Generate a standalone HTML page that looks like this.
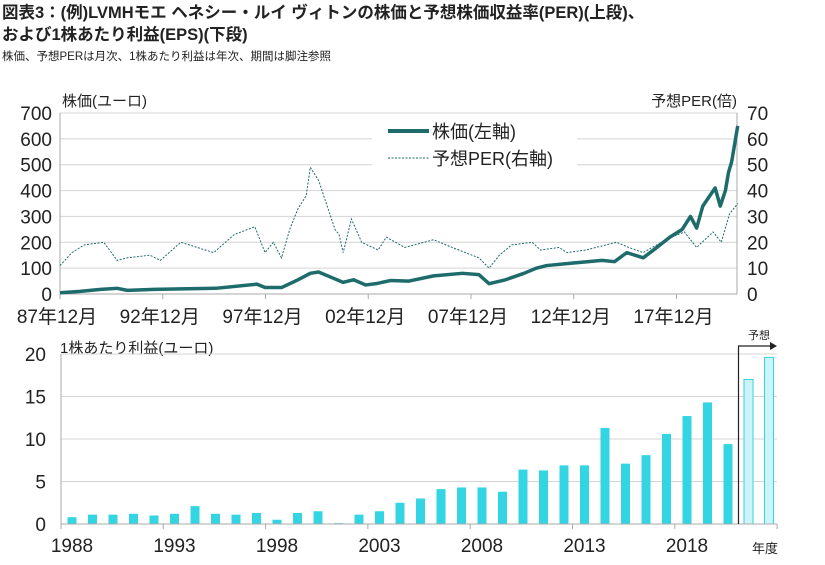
<!DOCTYPE html>
<html><head><meta charset="utf-8"><style>
body{margin:0;background:#fff;width:825px;height:560px;overflow:hidden;font-family:"Liberation Sans","Noto Sans CJK JP",sans-serif;}
svg text{font-family:"Liberation Sans","Noto Sans CJK JP",sans-serif;fill:#222;}
</style></head><body>
<svg id="c" width="825" height="560" xmlns="http://www.w3.org/2000/svg">
<text x="2" y="18" font-size="16.5" font-weight="bold">図表3：(例)LVMHモエ  ヘネシー・ルイ  ヴィトンの株価と予想株価収益率(PER)(上段)、</text>
<text x="2" y="40" font-size="16.5" font-weight="bold">および1株あたり利益(EPS)(下段)</text>
<text x="2" y="60" font-size="11.5">株価、予想PERは月次、1株あたり利益は年次、期間は脚注参照</text>
<text x="62" y="106" font-size="15">株価(ユーロ)</text>
<text x="737" y="106" font-size="15" text-anchor="end">予想PER(倍)</text>
<text x="60" y="353" font-size="15">1株あたり利益(ユーロ)</text>
<text x="752" y="553" font-size="13">年度</text>
<g id="topg"></g><g id="botg"></g>
</svg>
<script>
// top chart data
const priceDates=[1987.92,1988.9,1989.9,1990.7,1991.2,1992.5,1993.8,1995.5,1997.5,1997.9,1998.7,1999.5,2000.1,2000.5,2001.1,2001.7,2002.2,2002.8,2003.3,2004.0,2004.9,2006.1,2007.5,2008.3,2008.8,2009.6,2010.5,2011.1,2011.6,2012.9,2014.3,2014.9,2015.5,2016.3,2016.8,2017.6,2018.2,2018.6,2018.9,2019.2,2019.5,2019.8,2020.05,2020.3,2020.45,2020.6,2020.75,2020.9];
const priceValues=[5,10,18,22,14,18,20,22,38,25,25,55,80,85,65,45,55,35,40,52,50,70,80,75,40,55,80,100,110,120,130,125,160,140,170,220,250,300,255,340,375,410,340,400,470,510,580,650];
const perDates=[1987.92,1988.5,1989.1,1990.05,1990.7,1991.2,1992.3,1992.8,1993.8,1995.4,1996.4,1997.4,1997.9,1998.3,1998.7,1999.1,1999.5,1999.9,2000.1,2000.5,2001.3,2001.5,2001.7,2002.1,2002.6,2003.4,2003.8,2004.7,2006.1,2007.0,2008.3,2008.8,2009.3,2009.9,2010.9,2011.3,2012.2,2012.6,2013.5,2015.0,2015.6,2016.3,2017.4,2018.3,2018.9,2019.7,2020.1,2020.5,2020.9];
const perValues=[11,16,19,20,13,14,15,13,20,16,23,26,16,20,14,25,33,38,49,44,25,23,16,29,20,17,22,18,21,18,14,10,15,19,20,17,18,16,17,20,18,16,21,24,18,24,20,31,35];
const priceTicks=[0,100,200,300,400,500,600,700];
const perTicks=[0,10,20,30,40,50,60,70];
const xTickLabels=["87年12月","92年12月","97年12月","02年12月","07年12月","12年12月","17年12月"];
const xTickYears=[1987.92,1992.92,1997.92,2002.92,2007.92,2012.92,2017.92];
// bottom chart data
const epsYears=[1988,1989,1990,1991,1992,1993,1994,1995,1996,1997,1998,1999,2000,2001,2002,2003,2004,2005,2006,2007,2008,2009,2010,2011,2012,2013,2014,2015,2016,2017,2018,2019,2020,2021,2022];
const epsValues=[0.8,1.1,1.1,1.2,1.0,1.2,2.1,1.2,1.1,1.3,0.5,1.3,1.5,0.1,1.1,1.5,2.5,3.0,4.1,4.3,4.3,3.8,6.4,6.3,6.9,6.9,11.3,7.1,8.1,10.6,12.7,14.3,9.4,17.0,19.6];
const epsForecastFrom=2021;
const epsTicks=[0,5,10,15,20];
const epsLabelYears=[1988,1993,1998,2003,2008,2013,2018];

const NS="http://www.w3.org/2000/svg";
function mk(tag,attrs,parent,txt){const e=document.createElementNS(NS,tag);for(const k in attrs)e.setAttribute(k,attrs[k]);if(txt!==undefined)e.textContent=txt;parent.appendChild(e);return e;}
const topG=document.getElementById('topg'),botG=document.getElementById('botg');
const X0=60,X1=737,Y0=294,Y1=113;
const xT=y=>X0+(y-1987.92)*20.55;
const yP=v=>Y0-v*(Y0-Y1)/700;
const yR=v=>Y0-v*(Y0-Y1)/70;
priceTicks.forEach((t,i)=>{
  if(t>0){const g=mk('line',{x1:X0,x2:X1,y1:yP(t),y2:yP(t),stroke:'#d4d4d4','stroke-width':1},topG);
  
  }
  const l=mk('text',{x:52,y:yP(t)+7,'font-size':19,'text-anchor':'end'},topG,t);
  
  
  const r=mk('text',{x:747,y:yR(perTicks[i])+7,'font-size':19},topG,perTicks[i]);
  
  
});
let ax=mk('path',{d:`M${X0} ${Y1}V${Y0}H${X1}V${Y1}`,fill:'none',stroke:'#aaa'},topG);


xTickLabels.forEach((s,i)=>{
  const x=xT(xTickYears[i]);
  mk('line',{x1:x,x2:x,y1:Y0,y2:Y0+5,stroke:'#aaa'},topG);
  const t=mk('text',{x:x-3,y:323,'font-size':19,'text-anchor':'middle'},topG,s);
  
  
});
let lb=mk('rect',{x:372,y:115,width:205,height:60,fill:'#fff'},topG);


let per=mk('polyline',{points:perDates.map((d,i)=>xT(d)+','+yR(perValues[i])).join(' '),fill:'none',stroke:'#1d6b6b','stroke-width':1,'stroke-dasharray':'2,1.5'},topG);


let pr=mk('polyline',{points:priceDates.map((d,i)=>xT(d)+','+yP(priceValues[i])).join(' '),fill:'none',stroke:'#1d6b6b','stroke-width':3.5,'stroke-linejoin':'round'},topG);


let l1=mk('line',{x1:388,x2:429,y1:131,y2:131,stroke:'#1d6b6b','stroke-width':4},topG);


let t1=mk('text',{x:432,y:138,'font-size':18},topG,'株価(左軸)');


let l2=mk('line',{x1:388,x2:429,y1:158,y2:158,stroke:'#1d6b6b','stroke-width':1,'stroke-dasharray':'2,1.5'},topG);


let t2=mk('text',{x:432,y:165,'font-size':18},topG,'予想PER(右軸)');



// bottom
const B0=524,B1=354,BX0=61,BX1=777;
const xB=y=>72+(y-1988)*20.5;
const yB=v=>B0-v*(B0-B1)/20;
epsTicks.forEach(t=>{
  if(t>0){const g=mk('line',{x1:BX0,x2:BX1,y1:yB(t),y2:yB(t),stroke:'#d4d4d4'},botG);
  
  }
  const l=mk('text',{x:46,y:yB(t)+7,'font-size':19,'text-anchor':'end'},botG,t);
  
  
});
epsYears.forEach((y,i)=>{
  const f=y>=epsForecastFrom;
  const h=B0-yB(epsValues[i]);
  const r=mk('rect',{x:xB(y)-4.5,y:yB(epsValues[i]),width:9,height:Math.max(h,0.5),fill:f?'#cdf4f8':'#33d5e2',stroke:f?'#33d5e2':'none','stroke-width':1},botG);
  
  
});
let bax=mk('path',{d:`M${BX0} ${B1}V${B0}H${BX1}`,fill:'none',stroke:'#aaa'},botG);


for(let k=0;k<=7;k++){const x=BX0+k*102.3;mk('line',{x1:x,x2:x,y1:B0,y2:B0+5,stroke:'#aaa'},botG);}
epsLabelYears.forEach(y=>{
  const t=mk('text',{x:xB(y),y:552,'font-size':19,'text-anchor':'middle'},botG,y);
  
  
});
const fx=xB(epsForecastFrom)-10;
let fl=mk('path',{d:`M${fx} ${B0}V346H771`,fill:'none',stroke:'#222','stroke-width':1.2},botG);


let fa=mk('path',{d:'M770 342L777 346L770 350Z',fill:'#222'},botG);


let ft=mk('text',{x:748,y:339,'font-size':11},botG,'予想');


</script>
</body></html>
